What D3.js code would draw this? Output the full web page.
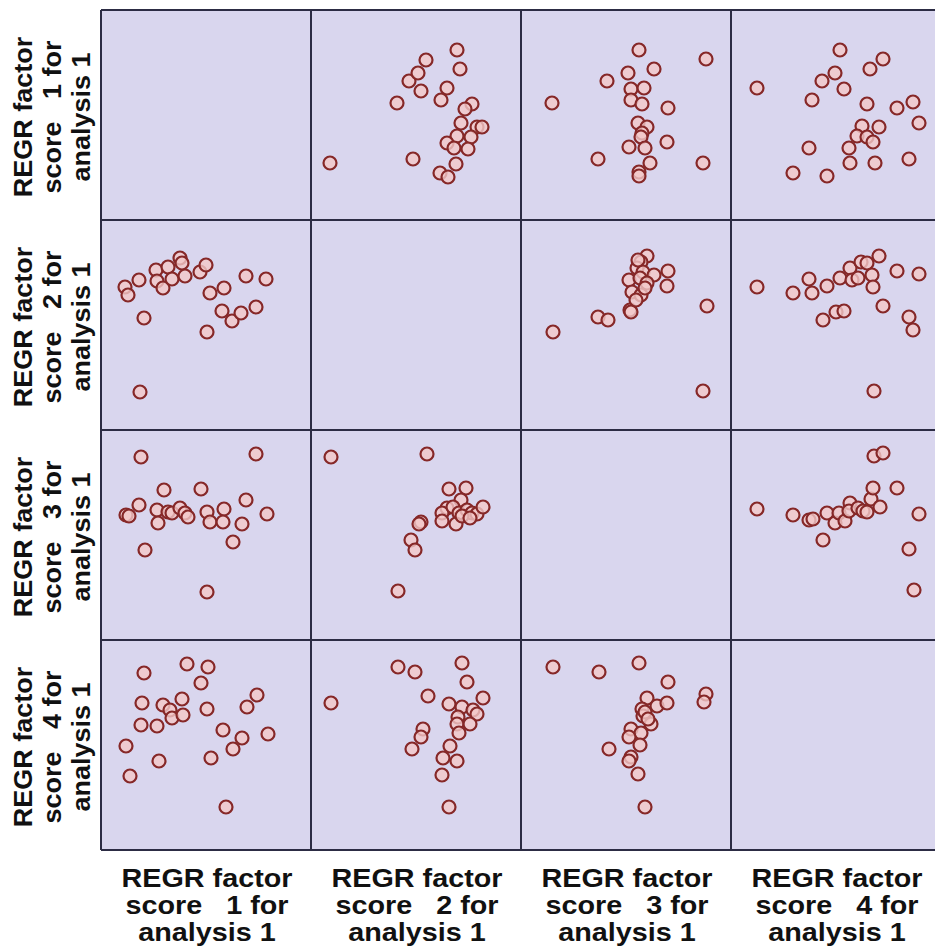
<!DOCTYPE html>
<html>
<head>
<meta charset="utf-8">
<script src="https://cdn.jsdelivr.net/npm/d3@7"></script>
<style>
  body { margin: 0; background: #fff; }
  text { font-family: "Liberation Sans", Arial, Helvetica, sans-serif; font-weight: bold; }
</style>
</head>
<body>
<div id="chart"></div>
<script>
// factor numbers shown on the axes
var factors = [1, 2, 3, 4];

// each panel: [x score, y score]; panel rXcY has y = factor X, x = factor Y
var r1c2 = [[-2.58,-1.44],[-0.57,0.36],[-0.09,-1.32],[-0.21,1.02],[0.06,1.26],[0.30,1.65],[0.15,0.72],[1.23,1.95],
    [1.32,1.38],[0.93,0.81],[0.75,0.45],[1.68,0.33],[1.47,0.18],[1.35,-0.24],[1.83,-0.36],[1.98,-0.36],[1.23,-0.63],
    [1.65,-0.66],[0.93,-0.84],[1.14,-0.99],[1.56,-1.02],[1.20,-1.47],[0.72,-1.74],[0.96,-1.86]];
var r1c3 = [[0.39,1.95],[2.40,1.68],[0.84,1.38],[0.06,1.26],[0.15,0.78],[0.54,0.81],[0.15,0.45],[0.48,0.33],
    [1.26,0.21],[0.36,-0.24],[0.63,-0.36],[0.48,-0.54],[0.45,-0.66],[0.09,-0.96],[0.57,-0.99],[1.23,-0.81],
    [2.31,-1.44],[0.72,-1.44],[0.39,-1.71],[0.39,-1.83],[-0.57,1.02],[-2.22,0.36],[-0.84,-1.32]];
var r1c4 = [[-2.37,0.81],[0.12,1.95],[1.41,1.68],[1.02,1.38],[-0.03,1.26],[-0.42,1.02],[0.24,0.78],[-0.72,0.45],
    [0.93,0.33],[1.83,0.21],[2.31,0.39],[2.49,-0.24],[0.78,-0.33],[1.29,-0.36],[0.63,-0.63],[0.93,-0.66],
    [1.11,-0.81],[0.39,-0.99],[-0.81,-0.99],[0.42,-1.44],[1.17,-1.44],[2.19,-1.32],[-1.29,-1.74],[-0.27,-1.83]];
var r2c1 = [[-2.43,1.14],[-2.34,0.90],[-2.01,1.35],[-1.50,1.65],[-1.47,1.32],[-1.29,1.11],[-1.14,1.74],[-1.02,1.38],
    [-0.78,2.01],[-0.72,1.86],[-0.63,1.47],[-0.18,1.59],[0.00,1.80],[0.12,0.96],[0.54,1.11],[1.20,1.47],
    [1.80,1.38],[-1.86,0.21],[0.48,0.42],[0.78,0.12],[1.05,0.36],[1.50,0.54],[0.03,-0.21],[-1.98,-2.01]];
var r2c3 = [[-2.19,-0.21],[-0.84,0.24],[-0.54,0.15],[0.63,2.07],[0.45,1.89],[0.33,1.71],[0.51,1.59],[0.84,1.50],
    [1.26,1.62],[0.09,1.35],[0.42,1.41],[0.63,1.26],[1.23,1.17],[0.18,0.99],[0.45,0.90],[2.43,0.57],[0.12,0.45],
    [0.15,0.39],[2.31,-1.98],[0.36,1.95],[0.57,1.11],[0.30,0.75]];
var r2c4 = [[-2.37,1.14],[-1.29,0.96],[-0.81,1.38],[-0.72,0.96],[-0.27,1.17],[0.12,1.41],[0.42,1.71],[0.48,1.35],
    [0.75,1.89],[0.66,1.41],[0.93,1.86],[1.29,2.07],[1.08,1.50],[1.11,1.14],[1.83,1.62],[2.49,1.53],[1.41,0.57],
    [-0.39,0.15],[0.00,0.39],[0.24,0.42],[2.19,0.24],[2.31,-0.15],[1.14,-1.98]];
var r3c1 = [[-1.95,2.34],[1.50,2.43],[-1.26,1.35],[-0.15,1.38],[-2.01,0.90],[-2.40,0.60],[-2.31,0.57],[-1.47,0.75],
    [-1.44,0.36],[-1.14,0.69],[-1.02,0.66],[-0.78,0.81],[-0.63,0.66],[-0.54,0.54],[0.03,0.69],[0.12,0.39],
    [0.54,0.78],[0.51,0.39],[1.20,1.05],[1.08,0.33],[1.83,0.63],[0.81,-0.21],[-1.83,-0.45],[0.03,-1.71]];
var r3c2 = [[-2.55,2.34],[0.33,2.43],[0.99,1.38],[1.50,1.41],[1.35,1.05],[0.93,0.81],[0.78,0.66],[1.11,0.84],
    [1.29,0.66],[1.53,0.75],[1.68,0.66],[1.83,0.63],[2.01,0.84],[0.78,0.42],[1.20,0.33],[0.15,0.39],[0.09,0.33],
    [-0.15,-0.15],[-0.03,-0.45],[-0.54,-1.68],[1.38,0.57],[1.62,0.51]];
var r3c4 = [[-2.37,0.78],[-1.29,0.60],[-0.81,0.45],[-0.69,0.48],[-0.27,0.66],[-0.03,0.36],[0.09,0.66],[0.27,0.42],
    [0.42,0.96],[0.39,0.72],[0.66,0.81],[0.81,0.72],[0.93,0.69],[1.05,1.08],[1.11,1.41],[1.32,0.84],[-0.39,-0.15],
    [1.14,2.37],[1.41,2.46],[1.83,1.41],[2.49,0.63],[2.19,-0.42],[2.34,-1.65]];
var r4c1 = [[-0.57,2.43],[0.06,2.34],[-1.86,2.16],[-0.15,1.86],[1.53,1.50],[1.23,1.14],[-1.92,1.26],[-1.29,1.20],
    [-0.72,1.38],[-1.08,1.05],[-1.02,0.81],[-0.69,0.90],[0.03,1.08],[-1.95,0.60],[-1.47,0.57],[0.51,0.45],
    [1.08,0.21],[0.81,-0.12],[1.86,0.33],[-2.40,-0.03],[-1.41,-0.48],[0.15,-0.39],[-2.28,-0.93],[0.60,-1.86]];
var r4c2 = [[-2.55,1.26],[-0.54,2.34],[-0.03,2.19],[1.38,2.46],[1.53,1.89],[0.36,1.47],[0.99,1.23],[1.38,1.14],
    [2.01,1.41],[1.71,1.05],[1.83,0.93],[1.26,0.84],[1.23,0.63],[1.62,0.63],[1.29,0.36],[0.21,0.48],[0.15,0.24],
    [-0.12,-0.12],[1.02,-0.03],[0.81,-0.39],[1.23,-0.48],[0.78,-0.90],[0.99,-1.86]];
var r4c3 = [[-2.19,2.34],[-0.81,2.19],[-0.51,-0.12],[0.39,2.46],[1.26,1.89],[2.40,1.53],[2.34,1.29],[0.63,1.41],
    [0.93,1.17],[1.23,1.26],[0.48,1.08],[0.51,0.87],[0.75,0.63],[0.15,0.48],[0.45,0.36],[0.09,0.24],[0.42,0.00],
    [0.15,-0.36],[0.09,-0.48],[0.36,-0.87],[0.57,-1.86],[0.57,0.99],[0.66,0.78]];

var panels = [
    {row: 0, col: 1, points: r1c2}, {row: 0, col: 2, points: r1c3}, {row: 0, col: 3, points: r1c4},
    {row: 1, col: 0, points: r2c1}, {row: 1, col: 2, points: r2c3}, {row: 1, col: 3, points: r2c4},
    {row: 2, col: 0, points: r3c1}, {row: 2, col: 1, points: r3c2}, {row: 2, col: 3, points: r3c4},
    {row: 3, col: 0, points: r4c1}, {row: 3, col: 1, points: r4c2}, {row: 3, col: 2, points: r4c3}
];

var gridLeft = 101, gridTop = 10, cell = 210;
var size = cell * factors.length;

var xScale = d3.scaleLinear().domain([-3.15, 3.15]).range([0, cell]);
var yScale = d3.scaleLinear().domain([-3.15, 3.15]).range([cell, 0]);

var svg = d3.select('#chart').append('svg')
    .attr('width', 935)
    .attr('height', 947);

var grid = svg.append('g')
    .attr('transform', 'translate(' + gridLeft + ', ' + gridTop + ')');

grid.append('rect')
    .attr('width', size)
    .attr('height', size)
    .style('fill', '#d9d6ee');

var cells = grid.selectAll('g.panel').data(panels)
    .enter().append('g')
    .attr('class', 'panel')
    .attr('transform', function (d) {
        return 'translate(' + (d.col * cell) + ', ' + (d.row * cell) + ')';
    });

cells.selectAll('circle').data(function (d) { return d.points; })
    .enter().append('circle')
    .attr('cx', function (p) { return xScale(p[0]); })
    .attr('cy', function (p) { return yScale(p[1]); })
    .attr('r', 6.5)
    .style('fill', '#f3c8c8')
    .style('fill-opacity', 0.8)
    .style('stroke', '#862828')
    .style('stroke-width', 2.2);

// cell borders
var lines = d3.range(factors.length + 1);
grid.selectAll('line.v').data(lines)
    .enter().append('line')
    .attr('class', 'v')
    .attr('x1', function (i) { return i * cell; })
    .attr('x2', function (i) { return i * cell; })
    .attr('y1', 0).attr('y2', size)
    .style('stroke', '#2c2c44').style('stroke-width', 2);
grid.selectAll('line.h').data(lines)
    .enter().append('line')
    .attr('class', 'h')
    .attr('y1', function (i) { return i * cell; })
    .attr('y2', function (i) { return i * cell; })
    .attr('x1', 0).attr('x2', size)
    .style('stroke', '#2c2c44').style('stroke-width', 2);

function labelLines(f) {
    return ['REGR factor', 'score   ' + f + ' for', 'analysis 1'];
}

// bottom labels
var bottom = svg.selectAll('text.bottom').data(factors)
    .enter().append('text')
    .attr('class', 'bottom')
    .attr('text-anchor', 'middle')
    .style('font-size', '25px')
    .style('fill', '#111')
    .style('white-space', 'pre')
    .attr('transform', function (f, i) {
        return 'translate(' + (gridLeft + i * cell + cell / 2 + 1) + ', 0) scale(1.15, 1)';
    });
bottom.selectAll('tspan').data(function (f) { return labelLines(f); })
    .enter().append('tspan')
    .attr('x', 0)
    .attr('y', function (t, j) { return gridTop + size + 37 + j * 27; })
    .text(function (t) { return t; });

// side labels
var side = svg.selectAll('text.side').data(factors)
    .enter().append('text')
    .attr('class', 'side')
    .attr('text-anchor', 'middle')
    .style('font-size', '25px')
    .style('fill', '#111')
    .style('white-space', 'pre')
    .attr('transform', function (f, i) {
        return 'translate(0, ' + (gridTop + i * cell + cell / 2 + 2) + ') rotate(-90) scale(1.08, 1)';
    });
side.selectAll('tspan').data(function (f) { return labelLines(f); })
    .enter().append('tspan')
    .attr('x', 0)
    .attr('y', function (t, j) { return 32 + j * 29; })
    .text(function (t) { return t; });
</script>
</body>
</html>
